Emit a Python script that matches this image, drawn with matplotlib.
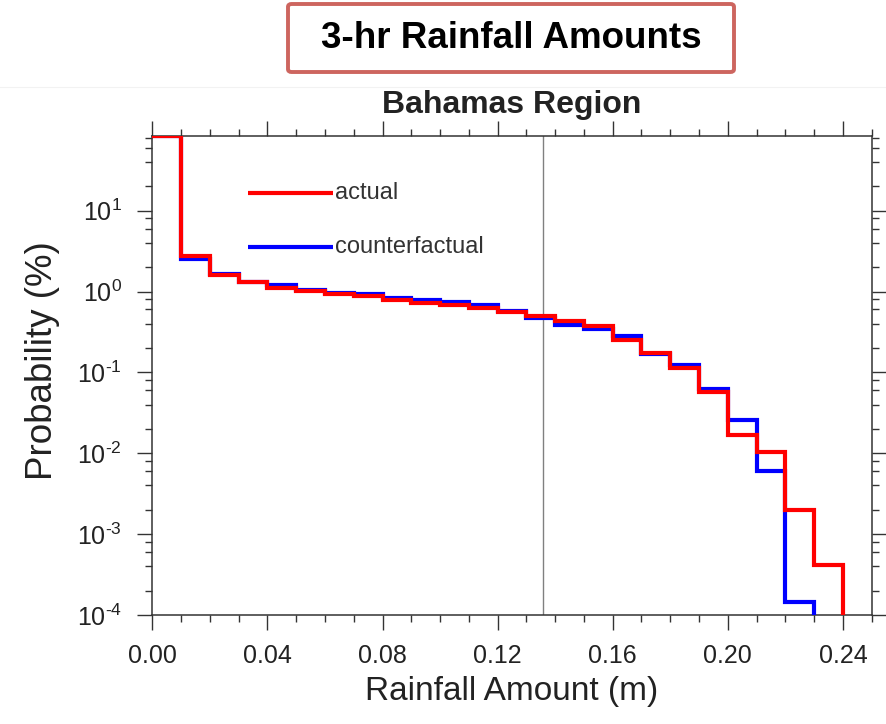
import numpy as np
import matplotlib
matplotlib.use("Agg")
import matplotlib.pyplot as plt
from matplotlib.ticker import FixedLocator, LogLocator, NullFormatter, FuncFormatter
from matplotlib.patches import FancyBboxPatch
from matplotlib.lines import Line2D

plt.rcParams['font.family'] = ['Liberation Sans', 'DejaVu Sans']
plt.rcParams['mathtext.fontset'] = 'custom'
plt.rcParams['mathtext.rm'] = 'Liberation Sans'
plt.rcParams['mathtext.it'] = 'Liberation Sans:italic'
plt.rcParams['mathtext.bf'] = 'Liberation Sans:bold'

# Histogram bins of 3-hr rainfall (m), 0.01 m wide
bin_edges = np.round(np.arange(0.0, 0.25 + 1e-9, 0.01), 2)

# Probability (%) per bin
actual = [84.5, 2.75, 1.62, 1.30, 1.11, 1.01, 0.92, 0.875, 0.78, 0.72,
          0.69, 0.62, 0.555, 0.495, 0.43, 0.37, 0.255, 0.172, 0.114, 0.057,
          0.0166, 0.0103, 0.0020, 0.00042, 0.0]
counterfactual = [84.5, 2.54, 1.66, 1.31, 1.22, 1.04, 0.96, 0.92, 0.83, 0.79,
                  0.745, 0.68, 0.57, 0.47, 0.39, 0.345, 0.285, 0.17, 0.122, 0.063,
                  0.026, 0.0060, 0.000145, 0.0, 0.0]

x_ticks = [0.00, 0.04, 0.08, 0.12, 0.16, 0.20, 0.24]
x_tick_labels = ["0.00", "0.04", "0.08", "0.12", "0.16", "0.20", "0.24"]
y_major = [1e-4, 1e-3, 1e-2, 1e-1, 1e0, 1e1]
marker_amount = 0.1358

series_names = ["actual", "counterfactual"]
series_colors = ["#ff0000", "#0000ff"]

W, H = 887, 724
fig = plt.figure(figsize=(W / 100, H / 100), dpi=100)

# Header box
box = FancyBboxPatch((288 / W, 1 - 72 / H), (734 - 288) / W, (72 - 4) / H,
                     boxstyle="round,pad=0,rounding_size=0.004",
                     transform=fig.transFigure, facecolor="white",
                     edgecolor="#cd655f", linewidth=2.8)
fig.patches.append(box)
fig.text(511 / W, 1 - 39 / H, "3-hr Rainfall Amounts", ha="center", va="center",
         fontsize=26.5, fontweight="bold", color="black")
fig.lines.append(Line2D([0, 1], [1 - 87 / H, 1 - 87 / H], transform=fig.transFigure,
                        color="#f2f2f2", lw=0.8, zorder=-1))

left, right, top, bottom = 152.3, 871.7, 135.7, 615.0
ax = fig.add_axes([left / W, 1 - bottom / H, (right - left) / W, (bottom - top) / H])
ax.set_yscale("log", nonpositive="clip")

def step_line(values, color):
    vals = np.append(values, values[-1])
    ax.plot(bin_edges, vals, drawstyle="steps-post", color=color, lw=3.0,
            solid_joinstyle="miter", zorder=3)

step_line(counterfactual, series_colors[1])
step_line(actual, series_colors[0])

ax.axvline(marker_amount, color="#808080", lw=1.0, zorder=2)

ax.set_xlim(0.0, 0.25)
ax.set_ylim(1e-4, max(actual))

def power_label(v, pos):
    e = int(round(np.log10(v)))
    return r"$\mathdefault{10^{\text{%d}}}$" % e

ax.xaxis.set_major_locator(FixedLocator(x_ticks))
ax.set_xticklabels(x_tick_labels)
ax.xaxis.set_minor_locator(FixedLocator(bin_edges))
ax.yaxis.set_major_locator(FixedLocator(y_major))
ax.yaxis.set_major_formatter(FuncFormatter(power_label))
ax.yaxis.set_minor_locator(LogLocator(base=10, subs=(2, 4, 6, 8)))
ax.yaxis.set_minor_formatter(NullFormatter())

ax.tick_params(which="both", direction="out", top=True, right=True,
               color="#333333", width=1.0)
ax.tick_params(which="major", length=10.8, labelsize=18, labelcolor="#222222")
ax.tick_params(which="minor", length=5.2)
ax.tick_params(axis="x", which="major", pad=10)
ax.tick_params(axis="y", which="major", pad=11)
for s in ax.spines.values():
    s.set_color("#333333")
    s.set_linewidth(1.1)

ax.set_xlabel("Rainfall Amount (m)", fontsize=24, color="#222222", labelpad=6)
ax.set_ylabel("Probability (%)", fontsize=26.5, color="#222222")
ax.yaxis.set_label_coords(-0.128, 0.53)
ax.set_title("Bahamas Region", fontsize=23, fontweight="bold", color="#222222", pad=16)

# Line legend inside the plot
for name, color, yf in zip(series_names, series_colors, [0.880, 0.768]):
    ax.plot([0.133, 0.251], [yf, yf], transform=ax.transAxes, color=color, lw=3.0,
            solid_capstyle="butt", zorder=4)
    ax.text(0.254, yf, name, transform=ax.transAxes, ha="left", va="center",
            fontsize=17, color="#333333")

fig.savefig("out.png", dpi=100)
